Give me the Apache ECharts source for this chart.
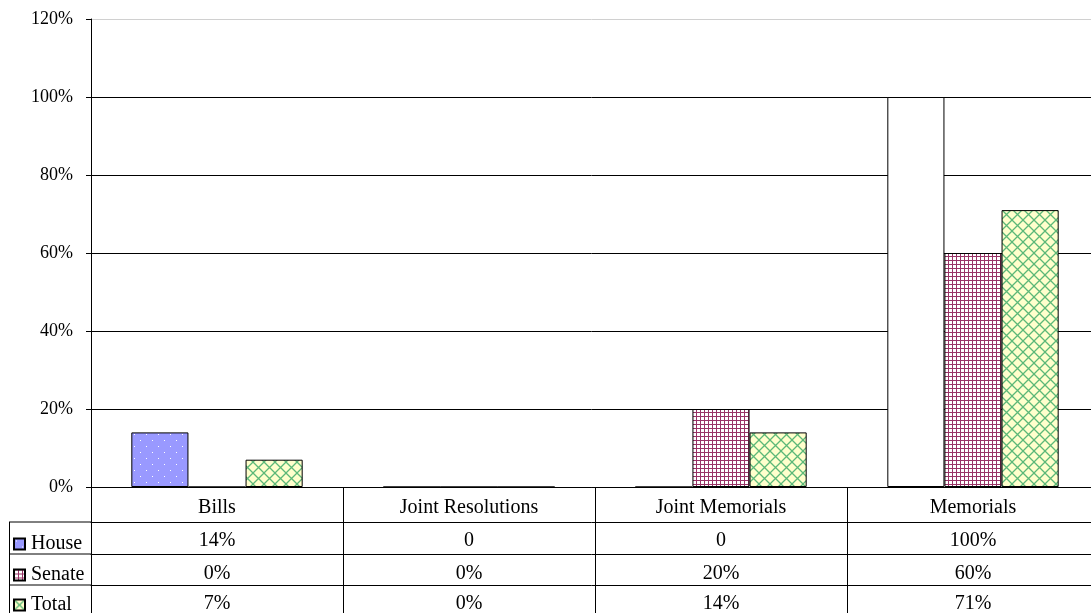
<!DOCTYPE html>
<html>
<head>
<meta charset="utf-8">
<script src="https://cdn.jsdelivr.net/npm/echarts@6/dist/echarts.min.js"></script>
<style>
  html, body { margin: 0; padding: 0; background: #fff; }
  #chart { width: 1091px; height: 613px; }
</style>
</head>
<body>
<div id="chart"></div>
<script>
const categories = ['Bills', 'Joint Resolutions', 'Joint Memorials', 'Memorials'];
const seriesNames = ['House', 'Senate', 'Total'];
const houseValues = [14, 0, 0, 100];
const senateValues = [0, 0, 20, 60];
const totalValues = [7, 0, 14, 71];
const houseLabels = ['14%', '0', '0', '100%'];
const senateLabels = ['0%', '0%', '20%', '60%'];
const totalLabels = ['7%', '0%', '14%', '71%'];
const yTicks = [0, 20, 40, 60, 80, 100, 120];

const FONT = 'Liberation Serif';

function makeTile(size, draw) {
  const c = document.createElement('canvas');
  c.width = size; c.height = size;
  draw(c.getContext('2d'), size);
  return c;
}

const housePattern = makeTile(12, (g, s) => {
  g.fillStyle = '#9999ff'; g.fillRect(0, 0, s, s);
  g.fillStyle = '#ffffff';
  g.fillRect(2, 2, 1, 1);
  g.fillRect(8, 8, 1, 1);
});
const senatePattern = makeTile(4, (g, s) => {
  g.fillStyle = '#ffffff'; g.fillRect(0, 0, s, s);
  g.fillStyle = '#993366';
  g.fillRect(0, 0, s, 1);
  g.fillRect(0, 0, 1, s);
});
const totalPattern = makeTile(11, (g, s) => {
  g.fillStyle = '#ffffcc'; g.fillRect(0, 0, s, s);
  g.strokeStyle = '#5cb878'; g.lineWidth = 1.3;
  g.beginPath();
  g.moveTo(0, 0); g.lineTo(s, s);
  g.moveTo(s, 0); g.lineTo(0, s);
  g.stroke();
});

const chart = echarts.init(document.getElementById('chart'), null, { renderer: 'canvas' });

const gridTop = 19, gridLeft = 91, plotH = 468;
const rowOffsets = [35, 67, 98];
const rowMargins = [9, 10, 9];
const legendTops = [534, 565, 595];

function tableAxis(labels, offset, margin) {
  return {
    type: 'category',
    data: categories,
    position: 'bottom',
    offset: offset,
    axisLine: { show: true, lineStyle: { color: '#000', width: 1 } },
    axisTick: { show: false },
    axisLabel: {
      margin: margin,
      fontFamily: FONT, fontSize: 20, color: '#000',
      formatter: (v, i) => labels[i]
    }
  };
}

function legendRow(name, top) {
  return {
    orient: 'vertical',
    left: 13,
    top: top,
    padding: 0,
    itemWidth: 11,
    itemHeight: 11,
    icon: 'rect',
    selectedMode: false,
    textStyle: { fontFamily: FONT, fontSize: 20, color: '#000', padding: [0, 0, 0, 1] },
    data: [name]
  };
}

const option = {
  animation: false,
  backgroundColor: '#fff',
  grid: { left: gridLeft, top: gridTop, width: 1008, height: plotH, outerBoundsMode: 'none' },
  legend: seriesNames.map((n, i) => legendRow(n, legendTops[i])),
  xAxis: [
    {
      type: 'category',
      data: categories,
      position: 'bottom',
      axisLine: { show: true, lineStyle: { color: '#000', width: 1 } },
      axisTick: { show: true, length: 130, lineStyle: { color: '#000' } },
      axisLabel: { margin: 11, fontFamily: FONT, fontSize: 20, color: '#000' }
    },
    tableAxis(houseLabels, rowOffsets[0], rowMargins[0]),
    tableAxis(senateLabels, rowOffsets[1], rowMargins[1]),
    tableAxis(totalLabels, rowOffsets[2], rowMargins[2])
  ],
  yAxis: {
    type: 'value',
    min: 0, max: 120, interval: 20,
    axisLine: { show: true, lineStyle: { color: '#000' } },
    axisTick: { show: true, length: 5, lineStyle: { color: '#000' } },
    axisLabel: { margin: 18, fontFamily: FONT, fontSize: 18, color: '#000', formatter: '{value}%' },
    splitLine: { show: true, lineStyle: { color: yTicks.map(t => t === 120 ? '#d0d0d0' : '#000'), width: 1 } }
  },
  graphic: [
    { type: 'line', shape: { x1: 9, y1: 522, x2: 91, y2: 522 }, style: { stroke: '#000', lineWidth: 1 } },
    { type: 'line', shape: { x1: 9, y1: 554, x2: 91, y2: 554 }, style: { stroke: '#000', lineWidth: 1 } },
    { type: 'line', shape: { x1: 9, y1: 585, x2: 91, y2: 585 }, style: { stroke: '#000', lineWidth: 1 } },
    { type: 'line', shape: { x1: 9.5, y1: 522, x2: 9.5, y2: 613 }, style: { stroke: '#000', lineWidth: 1 } }
  ],
  series: [
    {
      name: 'House', type: 'bar', barGap: '0%', barCategoryGap: '32%',
      itemStyle: { color: { image: housePattern, repeat: 'repeat' }, borderColor: '#000', borderWidth: 1 },
      data: houseValues.map(v => v === 100 ? { value: v, itemStyle: { color: '#fff' } } : v)
    },
    {
      name: 'Senate', type: 'bar', barGap: '0%', barCategoryGap: '32%',
      itemStyle: { color: { image: senatePattern, repeat: 'repeat' }, borderColor: '#000', borderWidth: 1 },
      data: senateValues
    },
    {
      name: 'Total', type: 'bar', barGap: '0%', barCategoryGap: '32%',
      itemStyle: { color: { image: totalPattern, repeat: 'repeat' }, borderColor: '#000', borderWidth: 1 },
      data: totalValues
    }
  ]
};

chart.setOption(option);
</script>
</body>
</html>
